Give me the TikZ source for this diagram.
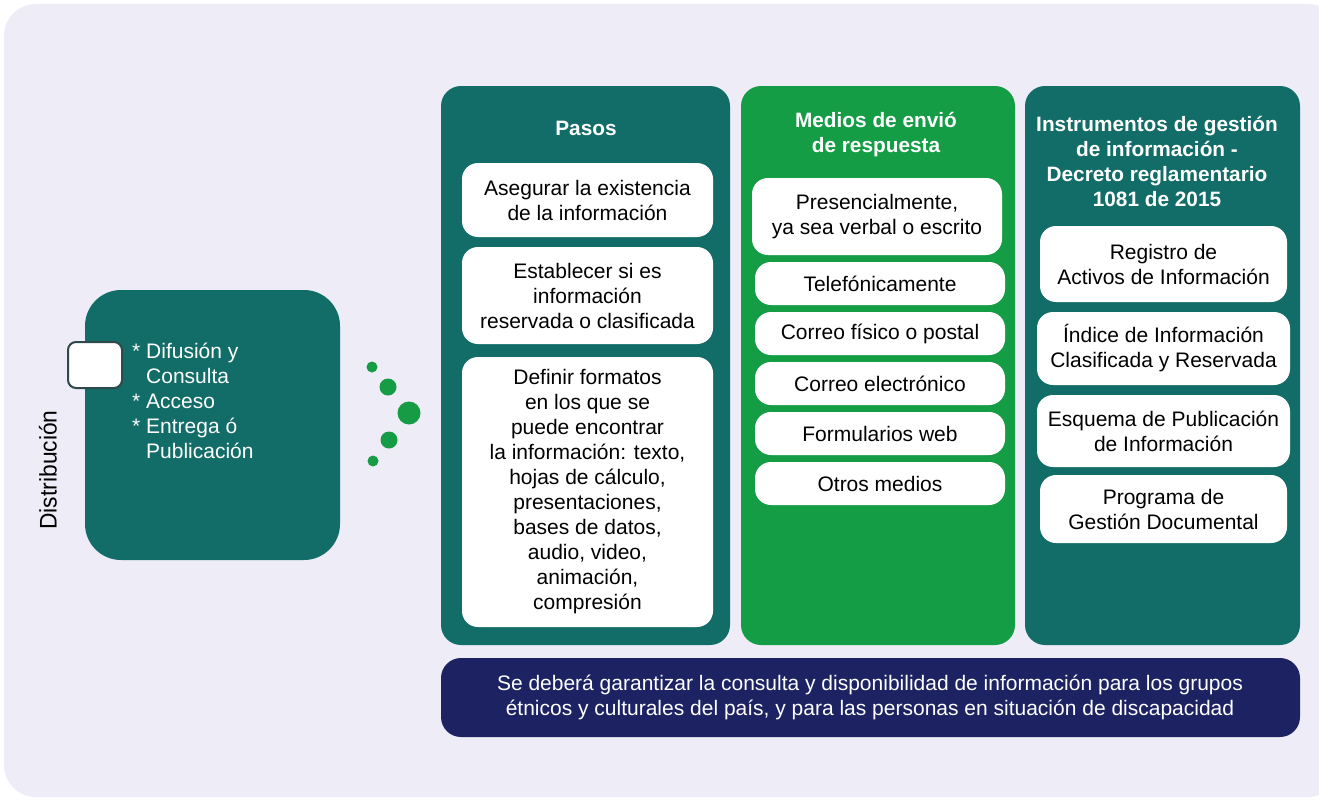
\documentclass[tikz,border=0pt]{standalone}
\usepackage{fontspec}
\setmainfont{Liberation Sans}
\definecolor{bglav}{HTML}{EEECF6}
\definecolor{tealc}{HTML}{126D68}
\definecolor{greenc}{HTML}{159D46}
\definecolor{navyc}{HTML}{1C2262}
\definecolor{dotg}{HTML}{169C45}
\definecolor{edgec}{HTML}{2E4A4A}
\tikzset{
  txt/.style={font=\fontsize{21}{25}\selectfont, align=center},
  coltitle/.style={font=\bfseries\fontsize{20.8}{25}\selectfont, align=center, text=white},
  colbox/.style={rounded corners=20pt, inner sep=0pt},
  wbox/.style={txt, fill=white, rounded corners=16pt, inner sep=0pt, text=black},
  gdot/.style={circle, fill=dotg, inner sep=0pt},
}
\begin{document}
\begin{tikzpicture}[x=1pt,y=-1pt]
\useasboundingbox (0,0) rectangle (1319,800);
\fill[white] (0,0) rectangle (1319,800);
\begin{scope}
\clip (0,0) rectangle (1319,800);
\fill[bglav, rounded corners=32pt] (4,4) rectangle (1340,797);
\end{scope}

% Distribucion
\node[colbox, fill=tealc, rounded corners=36pt, minimum width=255pt, minimum height=270pt] (dist) at (212.5,425) {};
\node[fill=white, draw=edgec, line width=2pt, rounded corners=8pt, minimum width=54pt, minimum height=46pt] (small) at (95,365) {};
\node[txt, align=left, text=white, anchor=west, inner sep=0pt] (distlist) at (132,401)
 {* Difusión y\\\phantom{*}\ Consulta\\* Acceso\\* Entrega ó\\\phantom{*}\ Publicación};
\node[rotate=90, font=\fontsize{24}{26}\selectfont, inner sep=0pt] (distlab) at (48,470) {\scalebox{0.95}[1]{Distribución}};

% dots
\node[gdot, minimum size=11pt] (d1) at (372,367) {};
\node[gdot, minimum size=17pt] (d2) at (388,387) {};
\node[gdot, minimum size=23pt] (d3) at (409,413) {};
\node[gdot, minimum size=17pt] (d4) at (389,440) {};
\node[gdot, minimum size=11pt] (d5) at (373,461) {};

% columns
\node[colbox, fill=tealc, minimum width=289pt, minimum height=559pt] (pasos) at (585.5,365.5) {};
\node[colbox, fill=greenc, minimum width=274pt, minimum height=559pt] (medios) at (878,365.5) {};
\node[colbox, fill=tealc, minimum width=275pt, minimum height=559pt] (instr) at (1162.5,365.5) {};
\node[colbox, fill=navyc, minimum width=859pt, minimum height=79pt] (bar) at (870.5,697.5) {};

% titles
\node[coltitle] (tp) at (586,128) {Pasos};
\node[coltitle] (tm) at (876,135) {Medios de envió\\de respuesta};
\node[coltitle] (ti) at (1157,161.5) {Instrumentos de gestión\\de información -\\Decreto reglamentario\\1081 de 2015};

% Pasos boxes
\node[wbox, minimum width=251pt, minimum height=74pt] (p1) at (587.5,200) {Asegurar la existencia\\de la información};
\node[wbox, minimum width=251pt, minimum height=97pt] (p2) at (587.5,295.5) {Establecer si es\\información\\reservada o clasificada};
\node[wbox, minimum width=251pt, minimum height=270pt] (p3) at (587.5,492) {Definir formatos\\en los que se\\puede encontrar\\la información: texto,\\hojas de cálculo,\\presentaciones,\\bases de datos,\\audio, video,\\animación,\\compresión};

% Medios boxes
\node[wbox, minimum width=250pt, minimum height=77pt] (m1) at (877,216.5) {Presencialmente,\\ya sea verbal o escrito};
\node[wbox, minimum width=250pt, minimum height=43pt] (m2) at (880,283.5) {Telefónicamente};
\node[wbox, minimum width=250pt, minimum height=43pt] (m3) at (880,333.5) {Correo físico o postal};
\node[wbox, minimum width=250pt, minimum height=43pt] (m4) at (880,383.5) {Correo electrónico};
\node[wbox, minimum width=250pt, minimum height=43pt] (m5) at (880,433.5) {Formularios web};
\node[wbox, minimum width=250pt, minimum height=43pt] (m6) at (880,483.5) {Otros medios};

% Instrumentos boxes
\node[wbox, minimum width=247pt, minimum height=76pt] (i1) at (1163.5,264) {Registro de\\Activos de Información};
\node[wbox, minimum width=253pt, minimum height=73pt] (i2) at (1163.5,348.5) {Índice de Información\\Clasificada y Reservada};
\node[wbox, minimum width=253pt, minimum height=72pt] (i3) at (1163.5,431) {Esquema de Publicación\\de Información};
\node[wbox, minimum width=247pt, minimum height=68pt] (i4) at (1163.5,509) {Programa de\\Gestión Documental};

% bottom text
\node[txt, text=white] (bt) at (870,697) {Se deberá garantizar la consulta y disponibilidad de información para los grupos\\étnicos y culturales del país, y para las personas en situación de discapacidad};
\end{tikzpicture}
\end{document}
